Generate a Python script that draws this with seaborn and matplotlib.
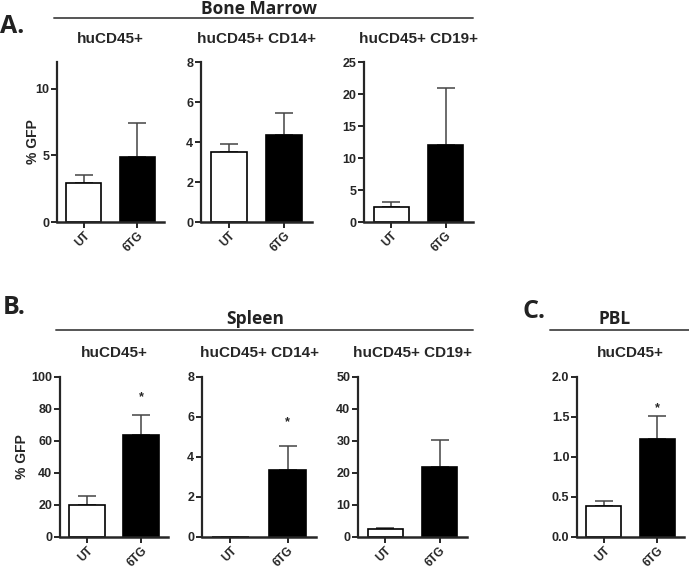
import numpy as np
import pandas as pd
import seaborn as sns
import matplotlib.pyplot as plt
from matplotlib.lines import Line2D

groups = ["UT", "6TG"]

# Bone marrow
bm_cd45 = [2.9, 4.9]
bm_cd45_err = [0.65, 2.55]
bm_cd14 = [3.48, 4.34]
bm_cd14_err = [0.41, 1.13]
bm_cd19 = [2.4, 12.1]
bm_cd19_err = [0.8, 8.8]

# Spleen
sp_cd45 = [19.8, 63.6]
sp_cd45_err = [5.4, 12.2]
sp_cd14 = [0.0, 3.35]
sp_cd14_err = [0.0, 1.18]
sp_cd19 = [2.3, 21.6]
sp_cd19_err = [0.25, 8.7]

# PBL
pbl_cd45 = [0.38, 1.22]
pbl_cd45_err = [0.07, 0.29]

sns.set_style("ticks")
plt.rcParams['font.family'] = ['Liberation Sans', 'DejaVu Sans']

W, H = 689, 569
fig = plt.figure(figsize=(W / 100, H / 100), dpi=100)


def make_ax(x0, x1, y_top, y_bot):
    return fig.add_axes([x0 / W, 1 - y_bot / H, (x1 - x0) / W, (y_bot - y_top) / H])


def panel(ax, vals, errs, title, yticks, ylim, star=None, ylabel=None, fmt=None, lpad=4):
    df = pd.DataFrame({"group": groups, "value": vals})
    sns.barplot(data=df, x="group", y="value", ax=ax, width=0.65,
                palette=["white", "black"], hue="group", legend=False,
                edgecolor="black", linewidth=1.2, errorbar=None)
    pos = np.arange(len(groups))
    ax.errorbar(pos, vals, yerr=[np.zeros(len(errs)), errs], fmt="none",
                ecolor="#444444", elinewidth=1.1, capsize=6.5, capthick=1.1,
                zorder=1)
    for bar in ax.patches:
        bar.set_zorder(2)
    ax.set_xlim(-0.5, 1.5)
    ax.set_ylim(*ylim)
    ax.set_yticks(yticks)
    if fmt:
        ax.set_yticklabels([fmt % t for t in yticks])
    ax.set_xlabel("")
    ax.set_ylabel(ylabel if ylabel else "", fontsize=10, fontweight="bold", labelpad=lpad)
    ax.set_title(title, fontsize=11, fontweight="bold", pad=14)
    for s in ["top", "right"]:
        ax.spines[s].set_visible(False)
    ax.spines["left"].set_linewidth(1.6)
    ax.spines["bottom"].set_linewidth(1.8)
    ax.tick_params(axis="both", width=1.4, length=4, labelsize=9, pad=1.5)
    for lab in ax.get_yticklabels():
        lab.set_fontweight("bold")
    ax.set_xticks(pos)
    ax.set_xticklabels(groups, rotation=45, ha="right", rotation_mode="anchor",
                       fontweight="bold", fontsize=8.5)
    if star is not None:
        ax.text(1, star, "*", ha="center", va="center", fontsize=9, fontweight="bold")


# Row A: bone marrow
ax = make_ax(57, 164, 62, 222)
panel(ax, bm_cd45, bm_cd45_err, "huCD45+", [0, 5, 10], (0, 12), ylabel="% GFP", lpad=-3)
ax = make_ax(201, 312, 62, 222)
panel(ax, bm_cd14, bm_cd14_err, "huCD45+ CD14+", [0, 2, 4, 6, 8], (0, 8))
ax = make_ax(364, 473, 62, 222)
panel(ax, bm_cd19, bm_cd19_err, "huCD45+ CD19+", [0, 5, 10, 15, 20, 25], (0, 25))

# Row B: spleen
ax = make_ax(60, 168, 376.5, 536.5)
panel(ax, sp_cd45, sp_cd45_err, "huCD45+", [0, 20, 40, 60, 80, 100], (0, 100),
      star=87, ylabel="% GFP", lpad=2)
ax = make_ax(202, 316, 376.5, 536.5)
panel(ax, sp_cd14, sp_cd14_err, "huCD45+ CD14+", [0, 2, 4, 6, 8], (0, 8), star=5.7)
ax = make_ax(358, 467, 376.5, 536.5)
panel(ax, sp_cd19, sp_cd19_err, "huCD45+ CD19+", [0, 10, 20, 30, 40, 50], (0, 50))

# C: PBL
ax = make_ax(577, 684, 376.5, 536.5)
panel(ax, pbl_cd45, pbl_cd45_err, "huCD45+", [0, 0.5, 1.0, 1.5, 2.0], (0, 2.0),
      star=1.6, fmt="%.1f")

# section headers
hdr = dict(family=["Open Sans", "DejaVu Sans"], fontweight="bold", color="#222222")
fig.text(0.0, 1 - 33 / H, "A.", fontsize=18, ha="left", va="baseline", **hdr)
fig.text(0.004, 1 - 314 / H, "B.", fontsize=18, ha="left", va="baseline", **hdr)
fig.text(523 / W, 1 - 318 / H, "C.", fontsize=18, ha="left", va="baseline", **hdr)
fig.text(259 / W, 1 - 14 / H, "Bone Marrow", fontsize=12.5, ha="center", va="baseline", **hdr)
fig.text(255 / W, 1 - 324 / H, "Spleen", fontsize=12.5, ha="center", va="baseline", **hdr)
fig.text(615 / W, 1 - 324 / H, "PBL", fontsize=12.5, ha="center", va="baseline", **hdr)

for (x0, x1, y) in [(54, 473, 17.7), (56, 473, 330), (550, 689, 330)]:
    fig.add_artist(Line2D([x0 / W, x1 / W], [1 - y / H, 1 - y / H],
                          transform=fig.transFigure, color="#555555", lw=1.4))

fig.savefig("out.png", dpi=100)
